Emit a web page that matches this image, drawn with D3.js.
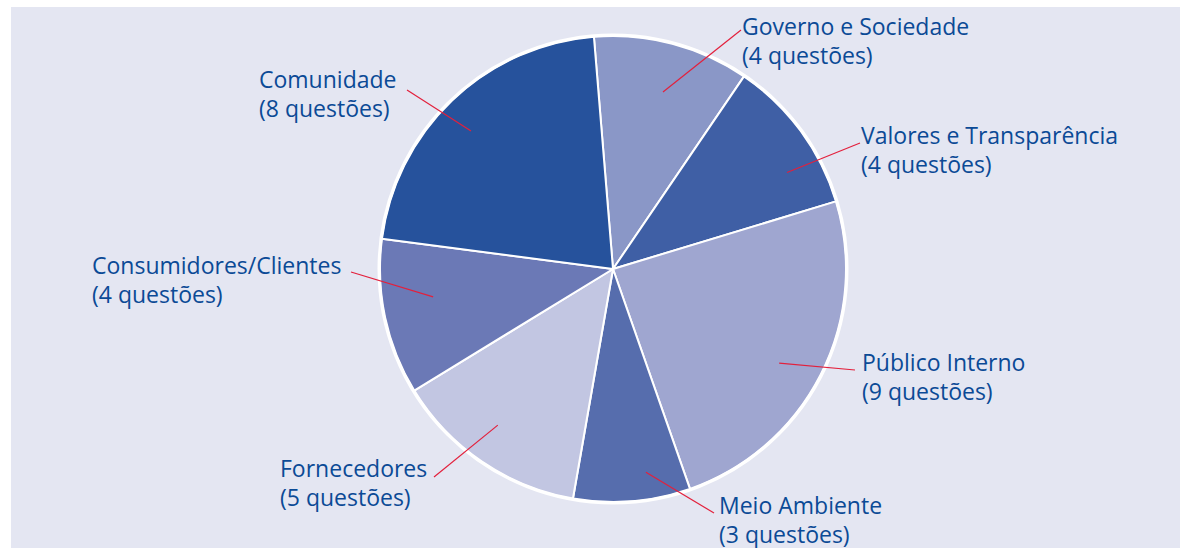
<!DOCTYPE html>
<html>
<head>
<meta charset="utf-8">
<script src="https://cdn.jsdelivr.net/npm/d3@7"></script>
<style>
  body { margin: 0; background: #fff; }
  svg { display: block; }
</style>
</head>
<body>
<div id="chart"></div>
<script>
// data
const categories = ["Governo e Sociedade", "Valores e Transparência", "Público Interno",
  "Meio Ambiente", "Fornecedores", "Consumidores/Clientes", "Comunidade"];
const questions = [4, 4, 9, 3, 5, 4, 8];
const colors = ["#8a97c7", "#3f5fa5", "#9fa6d0", "#566dad", "#c2c6e2", "#6b79b6", "#26529c"];

// label layout: text x, first baseline y, leader end x, leader end y
const labelPos = [
  [742, 35, 741, 30],
  [861, 144, 860, 143],
  [862, 371, 855, 370],
  [719, 514, 714, 513],
  [280, 477, 434, 477],
  [92, 274, 351, 272],
  [259, 88, 407, 90]
];
// leader start inside slice: angle shift from mid (deg), radius
const leaderIn = [[1, 184], [7.3, 199], [2.6, 191], [-4.5, 206], [2.2, 194], [3.2, 182], [-2.2, 198]];

const width = 1180, height = 548;
const cx = 613, cy = 269, radius = 233;

const svg = d3.select("#chart").append("svg")
  .attr("width", width)
  .attr("height", height);

svg.append("rect")
  .attr("x", 11).attr("y", 7)
  .attr("width", width - 11).attr("height", height - 7)
  .attr("fill", "#e4e6f2");

const pie = d3.pie()
  .sort(null)
  .value(d => d)
  .startAngle(-4.7 * Math.PI / 180)
  .endAngle((360 - 4.7) * Math.PI / 180);

const arcs = pie(questions);

const arc = d3.arc().innerRadius(0).outerRadius(radius);

const g = svg.append("g").attr("transform", `translate(${cx}, ${cy})`);

g.selectAll("path.slice")
  .data(arcs)
  .join("path")
  .attr("class", "slice")
  .attr("d", arc)
  .attr("fill", (d, i) => colors[i])
  .attr("stroke", "#fff")
  .attr("stroke-width", 2)
  .attr("stroke-linejoin", "round");

// white ring round the pie
g.append("circle")
  .attr("r", radius + 1)
  .attr("fill", "none")
  .attr("stroke", "#fff")
  .attr("stroke-width", 3);

// start point of leader, from the slice's mid angle
function leaderStart(d, i) {
  const a = (d.startAngle + d.endAngle) / 2 + leaderIn[i][0] * Math.PI / 180;
  const r = leaderIn[i][1];
  return [Math.sin(a) * r, -Math.cos(a) * r];
}

g.selectAll("line.leader")
  .data(arcs)
  .join("line")
  .attr("class", "leader")
  .attr("x1", (d, i) => leaderStart(d, i)[0])
  .attr("y1", (d, i) => leaderStart(d, i)[1])
  .attr("x2", (d, i) => labelPos[i][2] - cx)
  .attr("y2", (d, i) => labelPos[i][3] - cy)
  .attr("stroke", "#e3203c")
  .attr("stroke-width", 1.2);

// labels
const labels = svg.selectAll("text.label")
  .data(arcs)
  .join("text")
  .attr("class", "label")
  .attr("x", (d, i) => labelPos[i][0])
  .attr("y", (d, i) => labelPos[i][1])
  .attr("fill", "#0b4a96")
  .style("font-family", "'Open Sans', sans-serif")
  .style("font-size", "23px");

labels.append("tspan")
  .attr("x", (d, i) => labelPos[i][0])
  .text((d, i) => categories[i]);

labels.append("tspan")
  .attr("x", (d, i) => labelPos[i][0])
  .attr("dy", 29)
  .text(d => `(${d.data} questões)`);
</script>
</body>
</html>
